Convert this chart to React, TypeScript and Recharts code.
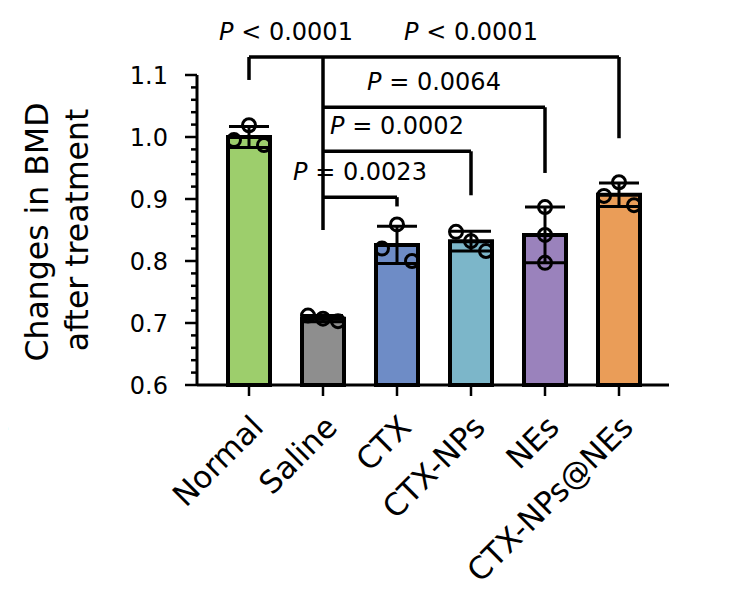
import React from 'react'
import {
  Bar,
  Cell,
  ComposedChart,
  ErrorBar,
  ReferenceLine,
  Scatter,
  XAxis,
  YAxis,
} from 'recharts'

const groups = ['Normal', 'Saline', 'CTX', 'CTX-NPs', 'NEs', 'CTX-NPs@NEs']
const means = [1.0, 0.707, 0.826, 0.832, 0.842, 0.907]
const sds = [0.017, 0.005, 0.03, 0.016, 0.045, 0.019]
const rep1 = [1.019, 0.712, 0.859, 0.847, 0.887, 0.927]
const rep2 = [0.995, 0.707, 0.82, 0.832, 0.842, 0.905]
const rep3 = [0.987, 0.703, 0.8, 0.816, 0.797, 0.89]
const colors = ['#9dce6c', '#8e8e8e', '#6e8cc6', '#7cb6c9', '#9a82bc', '#ea9d58']

const yMajor = [0.6, 0.7, 0.8, 0.9, 1.0, 1.1]

// every comparison hangs off the Saline bar
const hub = 'Saline'
const hubBottom = 0.85
const cmpGroups = ['Normal', 'CTX-NPs@NEs', 'NEs', 'CTX-NPs', 'CTX']
const cmpY = [1.129, 1.129, 1.048, 0.977, 0.903]
const cmpDrop = [1.092, 0.998, 0.942, 0.906, 0.888]
const pTexts = ['< 0.0001', '< 0.0001', '= 0.0064', '= 0.0002', '= 0.0023']

const FONT = '"DejaVu Sans", sans-serif'
const Y_AXIS_W = 189

const reps = [rep1, rep2, rep3]
const data = groups.map((name, i) => ({
  name,
  mean: means[i],
  sd: sds[i],
  r0: rep1[i],
  r1: rep2[i],
  r2: rep3[i],
}))

// spread points sideways when they sit close together, like a small beeswarm
function spread(vals: number[]): number[] {
  const order = vals.map((_, i) => i).sort((a, b) => vals[b] - vals[a])
  const offs = vals.map(() => 0)
  let cluster: number[] = []
  const flush = () => {
    const n = cluster.length
    cluster.forEach((idx, k) => {
      offs[idx] = n === 1 ? 0 : (k - (n - 1) / 2) * (30 / (n - 1))
    })
    cluster = []
  }
  order.forEach((idx, k) => {
    if (k > 0 && vals[order[k - 1]] - vals[idx] > 0.021) flush()
    cluster.push(idx)
  })
  flush()
  return offs
}

const offsets: Record<string, number[]> = {}
groups.forEach((g, i) => {
  offsets[g] = spread(reps.map((r) => r[i]))
})

const dot = (rep: number) => (props: any) => {
  const { cx, cy, payload } = props
  if (cx == null || cy == null) return <g />
  const dx = offsets[payload.name]?.[rep] ?? 0
  return <circle cx={cx + dx} cy={cy} r={6.5} fill="none" stroke="#000" strokeWidth={3} />
}

const pLabel = (text: string) => (props: any) => {
  const vb = props.viewBox || {}
  const x = vb.x1 != null ? (vb.x1 + vb.x2) / 2 : vb.x + vb.width / 2
  const y = vb.y1 != null ? Math.min(vb.y1, vb.y2) : vb.y
  return (
    <text x={x} y={y - 17} textAnchor="middle" fontSize={24} fontFamily={FONT} fill="#000">
      <tspan fontStyle="italic">P</tspan>
      {' ' + text}
    </text>
  )
}

function YTick({ y, payload }: any) {
  const v = payload.value
  const major = yMajor.some((m) => Math.abs(m - v) < 1e-6)
  return (
    <g>
      <line x1={Y_AXIS_W - (major ? 12 : 6)} x2={Y_AXIS_W} y1={y} y2={y} stroke="#000" strokeWidth={2.5} />
      {major && (
        <text x={Y_AXIS_W - 29} y={y} dy="0.36em" textAnchor="end" fontSize={24} fontFamily={FONT} fill="#000">
          {v.toFixed(1)}
        </text>
      )}
    </g>
  )
}

function XTick({ x, y, payload }: any) {
  return (
    <text
      transform={`translate(${x + 16},${y + 31}) rotate(-45)`}
      textAnchor="end"
      fontSize={31}
      fontFamily={FONT}
      fill="#000"
    >
      {payload.value}
    </text>
  )
}

function YLabel(props: any) {
  const vb = props.viewBox || { x: 0, y: 0, width: 0, height: 0 }
  const cy = vb.y + vb.height / 2
  return (
    <g fontFamily={FONT} fontSize={31.5} fill="#000">
      <text transform={`translate(${vb.x + 40},${cy + 2}) rotate(-90)`} textAnchor="middle">
        Changes in BMD
      </text>
      <text transform={`translate(${vb.x + 80},${cy}) rotate(-90)`} textAnchor="middle">
        after treatment
      </text>
    </g>
  )
}

const yTicks: number[] = []
for (let i = 0; i < yMajor.length - 1; i++) {
  for (let k = 0; k < 5; k++) yTicks.push(+(yMajor[i] + k * 0.02).toFixed(2))
}
yTicks.push(yMajor[yMajor.length - 1])

const line = { stroke: '#000', strokeWidth: 3.5 }

export default function App() {
  return (
    <div style={{ position: 'relative', width: 732, height: 598 }}>
      <span
        style={{
          position: 'absolute',
          left: -17,
          top: 406,
          fontFamily: FONT,
          fontSize: 24,
          fontWeight: 'bold',
          lineHeight: 1,
        }}
      >
        B
      </span>
      <ComposedChart
        width={732}
        height={598}
        data={data}
        margin={{ top: 67, right: 71, bottom: 191, left: 0 }}
      >
        <XAxis
          dataKey="name"
          interval={0}
          height={30}
          padding={{ left: 15, right: 13 }}
          axisLine={{ stroke: '#000', strokeWidth: 3 }}
          tickLine={{ stroke: '#000', strokeWidth: 2.5 }}
          tickSize={11}
          tick={<XTick />}
        />
        <YAxis
          type="number"
          domain={[0.6, 1.1]}
          ticks={yTicks}
          interval={0}
          width={Y_AXIS_W}
          axisLine={{ stroke: '#000', strokeWidth: 3 }}
          tickLine={false}
          tick={<YTick />}
          label={YLabel}
        />
        <Bar dataKey="mean" barSize={42} stroke="#000" strokeWidth={4} isAnimationActive={false}>
          {data.map((d, i) => (
            <Cell key={d.name} fill={colors[i]} />
          ))}
          <ErrorBar dataKey="sd" width={20} stroke="#000" strokeWidth={3} isAnimationActive={false} />
        </Bar>
        {reps.map((_, r) => (
          <Scatter key={r} dataKey={`r${r}`} shape={dot(r)} isAnimationActive={false} />
        ))}
        <ReferenceLine
          segment={[{ x: hub, y: cmpY[0] }, { x: hub, y: hubBottom }]}
          ifOverflow="visible"
          {...line}
        />
        {cmpGroups.map((g, i) => (
          <ReferenceLine
            key={`h${i}`}
            segment={[{ x: g, y: cmpY[i] }, { x: hub, y: cmpY[i] }]}
            ifOverflow="visible"
            label={pLabel(pTexts[i])}
            {...line}
          />
        ))}
        {cmpGroups.map((g, i) => (
          <ReferenceLine
            key={`d${i}`}
            segment={[{ x: g, y: cmpY[i] }, { x: g, y: cmpDrop[i] }]}
            ifOverflow="visible"
            {...line}
          />
        ))}
      </ComposedChart>
    </div>
  )
}
